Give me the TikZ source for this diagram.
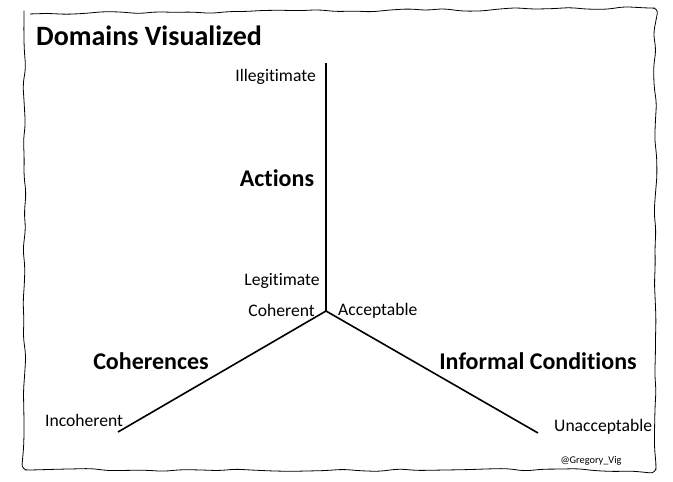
\documentclass[tikz,border=0pt]{standalone}
\usepackage{fontspec}
\setmainfont[Ligatures=NoCommon]{Carlito}
\usetikzlibrary{decorations.pathmorphing}
\begin{document}
\begin{tikzpicture}[x=1pt,y=-1pt,
  axis/.style={line width=1.6pt},
  lbl/.style={inner sep=0pt,font=\fontsize{17.6}{20}\selectfont},
  big/.style={inner sep=0pt,font=\fontsize{24}{28}\selectfont\bfseries},
  frame/.style={line width=0.8pt,decorate,decoration={random steps,segment length=18pt,amplitude=1.6pt},rounded corners=6pt}]
\useasboundingbox (0,0) rectangle (673,482);
\pgfmathsetseed{7}
\draw[frame] (24,14) -- (655,8) -- (656,470) -- (25,470) -- cycle;
\node[inner sep=0pt,font=\fontsize{28}{32}\selectfont\bfseries,anchor=west] (title) at (36,36) {Domains Visualized};
\coordinate (o) at (326,311);
\coordinate (top) at (326,63);
\coordinate (left) at (118,432);
\coordinate (right) at (538,433);
\draw[axis] (o) -- (top);
\draw[axis] (o) -- (left);
\draw[axis] (o) -- (right);
\node[lbl,anchor=east] (illeg) at (316,77) {Illegitimate};
\node[big] (actions) at (277,178) {Actions};
\node[lbl] (leg) at (282,281) {Legitimate};
\node[lbl,anchor=east] (coh) at (315,310) {Coherent};
\node[lbl,anchor=west] (acc) at (338,311) {Acceptable};
\node[big] (cohs) at (151,361) {Coherences};
\node[big] (inf) at (538,361) {Informal Conditions};
\node[lbl,anchor=west] (incoh) at (45,420) {Incoherent};
\node[lbl,anchor=west] (unacc) at (554,427) {Unacceptable};
\node[inner sep=0pt,font=\fontsize{10.3}{12}\selectfont] (sig) at (591,461) {@Gregory\_Vig};
\end{tikzpicture}
\end{document}
